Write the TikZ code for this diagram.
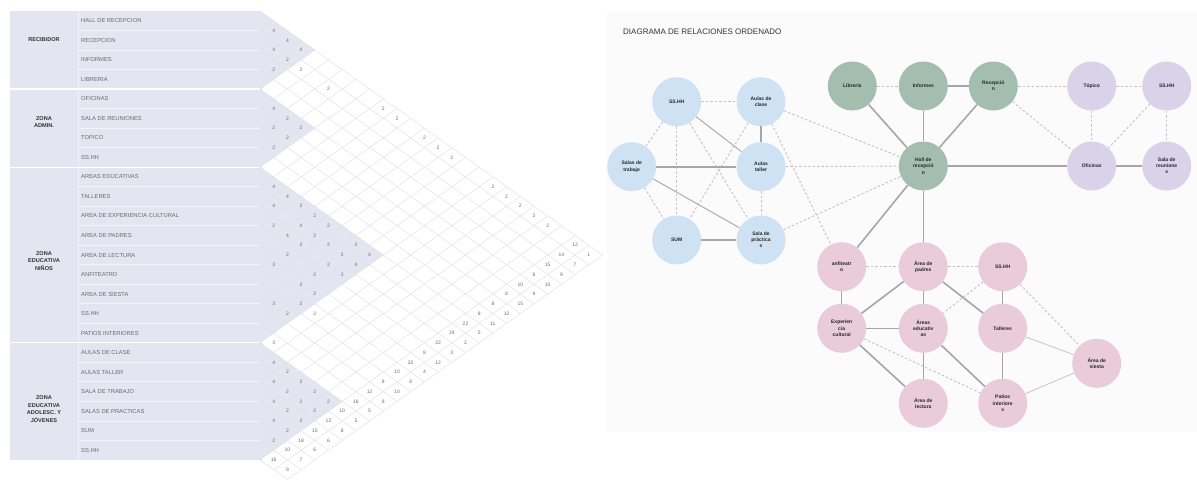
\documentclass[tikz,border=0pt]{standalone}
\usepackage{fontspec}
\setmainfont{Liberation Sans}
\definecolor{lav}{HTML}{E5E4F1}
\definecolor{lavline}{HTML}{F3F3F9}
\definecolor{gridc}{HTML}{E2E2E7}
\definecolor{numc}{HTML}{6E6E6E}
\definecolor{lblc}{HTML}{6A6A6A}
\definecolor{nblue}{HTML}{CFE2F3}
\definecolor{ngreen}{HTML}{A3BEAF}
\definecolor{npurple}{HTML}{D9D2E9}
\definecolor{npink}{HTML}{EACBD8}
\definecolor{edgec}{HTML}{A6A6A6}
\definecolor{dashc}{HTML}{C8C2C4}
\definecolor{panelc}{HTML}{FBFBFB}
\begin{document}
\begin{tikzpicture}[x=1pt,y=-1pt,
  gridl/.style={draw=gridc,line width=0.5pt},
  cnum/.style={inner sep=0pt,text=numc,font=\fontsize{5}{6}\selectfont},
  rowlbl/.style={anchor=west,inner sep=0pt,text=lblc,font=\fontsize{5.8}{7}\selectfont},
  grplbl/.style={align=center,inner sep=0pt,text=black!80,font=\bfseries\fontsize{5.6}{7.4}\selectfont},
  nd/.style={circle,minimum size=49pt,inner sep=0pt,align=center,text=black!85,font=\bfseries\fontsize{5}{6.2}\selectfont},
  bl/.style={nd,fill=nblue},
  gr/.style={nd,fill=ngreen},
  pu/.style={nd,fill=npurple},
  pk/.style={nd,fill=npink},
  sol/.style={draw=edgec,line width=1.6pt},
  solt/.style={draw=edgec,line width=0.9pt},
  das/.style={draw=dashc,line width=0.9pt,dash pattern=on 2.5pt off 2pt}]
\useasboundingbox (0,0) rectangle (1197,480);
% ---------- left table ----------
\fill[lav] (10,11) rectangle (261,459.96);
\foreach \k in {1,...,22} \draw[lavline,line width=0.8pt] (78,{11+\k*19.52}) -- (260,{11+\k*19.52});
\foreach \k in {4,8,17} \draw[white,line width=1.2pt] (10,{11+\k*19.52}) -- (260,{11+\k*19.52});
\draw[lavline,line width=1pt] (78,11) -- (78,459.96);
\draw[gridc!80!lav,line width=1.2pt] (261,11) -- (261,459.96);
% group triangles in the matrix
\foreach \ra/\rb in {1/4,5/8,9/17,18/23}
  \fill[lav] (260,{11+(\ra-1)*19.52}) -- ({260+(\rb-\ra+1)*13.7},{11+(\ra-1+\rb)*9.76}) -- (260,{11+\rb*19.52}) -- cycle;
% grid lines
\foreach \k in {0,...,23} \draw[gridl] (260,{11+\k*19.52}) -- ++({(25-\k)*13.7},{(25-\k)*9.76});
\foreach \k in {1,...,25} {
  \pgfmathsetmacro\xs{max(0,\k-23)*13.7}
  \draw[gridl] ({260+\xs},{11+\k*19.52-\xs*0.71241}) -- ({260+\k*13.7},{11+\k*9.76});
}
% row labels
\foreach \n/\t [count=\r] in {l1/HALL DE RECEPCION,l2/RECEPCION,l3/INFORMES,l4/LIBRERIA,l5/OFICINAS,l6/SALA DE REUNIONES,l7/TOPICO,l8/SS.HH,l9/AREAS EDUCATIVAS,l10/TALLERES,l11/AREA DE EXPERIENCIA CULTURAL,l12/AREA DE PADRES,l13/AREA DE LECTURA,l14/ANFITEATRO,l15/AREA DE SIESTA,l16/SS.HH,l17/PATIOS INTERIORES,l18/AULAS DE CLASE,l19/AULAS TALLER,l20/SALA DE TRABAJO,l21/SALAS DE PRACTICAS,l22/SUM,l23/SS.HH}
  \node[rowlbl] (\n) at (81,{11+(\r-0.5)*19.52}) {\t};
\node[grplbl] (g1) at (44,39.5) {RECIBIDOR};
\node[grplbl] (g2) at (44,122) {ZONA\\ADMIN.};
\node[grplbl] (g3) at (44,261) {ZONA\\EDUCATIVA\\NIÑOS};
\node[grplbl] (g4) at (44,409) {ZONA\\EDUCATIVA\\ADOLESC. Y\\JÓVENES};
% cell values
\foreach \i/\j/\v in {1/2/4,1/3/4,2/3/4,1/4/4,2/4/2,3/4/2,2/5/2,2/7/2,
  5/6/4,5/7/2,6/7/2,5/8/2,6/8/2,7/8/2,
  1/10/2,1/11/2,1/13/2,1/14/2,1/15/2,1/18/2,1/19/2,1/20/2,1/21/2,1/22/2,
  9/10/4,9/11/4,10/11/4,9/12/2,9/13/2,11/12/2,10/13/4,9/14/2,11/13/4,10/14/2,
  11/14/2,10/15/2,9/16/2,12/14/2,10/16/2,9/17/4,13/14/3,11/16/2,10/17/4,
  12/16/2,11/17/2,13/16/2,13/17/2,15/16/3,14/17/2,15/17/2,14/18/2,17/18/3,
  18/19/4,18/20/2,19/20/4,18/21/2,19/21/2,18/22/2,20/21/4,19/22/2,18/23/2,
  20/22/2,19/23/2,21/22/4,20/23/2,21/23/2,22/23/2}
  \node[cnum] (c\i-\j) at ({260+(\j-\i)*13.7},{11+(\i+\j-1)*9.76}) {\v};
% strip values
\foreach \i/\t/\r in {1/12/1,2/14/7,3/15/9,4/8/10,5/10/9,6/8/15,7/8/12,8/8/11,9/22/5,10/24/2,11/22/3,12/8/12,13/20/4,14/10/8,15/8/10,16/12/8,17/16/5,18/10/5,19/12/8,20/15/6,21/18/6,22/10/7,23/16/9}{
  \node[cnum] (t\i) at ({260+(24-\i)*13.7},{11+(\i+23)*9.76}) {\t};
  \node[cnum] (r\i) at ({260+(25-\i)*13.7},{11+(\i+24)*9.76}) {\r};
}
% ---------- right panel ----------
\fill[panelc] (607,12) rectangle (1197,432);
\node[anchor=west,inner sep=0pt,text=black!80,font=\fontsize{8}{9}\selectfont] (title) at (623,32) {DIAGRAMA DE RELACIONES ORDENADO};
% blue
\node[bl] (bss) at (676.7,101.7) {SS.HH};
\node[bl] (bac) at (761,101.7) {Aulas de\\clase};
\node[bl] (bst) at (631.7,166.7) {Salas de\\trabajo};
\node[bl] (bat) at (761,166.7) {Aulas\\taller};
\node[bl] (bsum) at (676.7,240) {SUM};
\node[bl] (bsp) at (761,240) {Sala de\\práctica\\s};
% green
\node[gr] (glib) at (852.3,86) {Librería};
\node[gr] (ginf) at (923.3,86) {Informes};
\node[gr] (grec) at (993.3,86) {Recepció\\n};
\node[gr] (ghall) at (923.3,166) {Hall de\\recepció\\n};
% purple
\node[pu] (ptop) at (1091.7,86) {Tópico};
\node[pu] (pss) at (1166.7,86) {SS.HH};
\node[pu] (pofi) at (1091.7,166) {Oficinas};
\node[pu] (preu) at (1166.7,166) {Sala de\\reunione\\s};
% pink
\node[pk] (kanf) at (841.7,266.7) {anfiteatr\\o};
\node[pk] (kpad) at (923.3,266.7) {Área de\\padres};
\node[pk] (kss) at (1002.7,266.7) {SS.HH};
\node[pk] (kexp) at (841.7,328.3) {Experien\\cia\\cultural};
\node[pk] (kedu) at (923.3,328.3) {Áreas\\educativ\\as};
\node[pk] (ktal) at (1002.7,328.3) {Talleres};
\node[pk] (ksie) at (1096.7,363.3) {Área de\\siesta};
\node[pk] (klec) at (923.3,403.3) {Área de\\lectura};
\node[pk] (kpat) at (1002.7,403.3) {Patios\\interiore\\s};
% edges blue
\draw[das] (bss) -- (bac);
\draw[das] (bss) -- (bst);
\draw[das] (bss) -- (bsum);
\draw[solt] (bss) -- (bat);
\draw[das] (bss) -- (bsp);
\draw[sol] (bac) -- (bat);
\draw[das] (bac) -- (bsum);
\draw[sol] (bst) -- (bat);
\draw[solt] (bst) -- (bsp);
\draw[das] (bst) -- (bsum);
\draw[das] (bat) -- (bsp);
\draw[sol] (bsum) -- (bsp);
\draw[das] (bac) -- (ghall);
\draw[das] (bac) -- (kanf);
\draw[das] (bat) -- (ghall);
\draw[das] (bsp) -- (ghall);
% edges green
\draw[das] (glib) -- (ginf);
\draw[sol] (ginf) -- (grec);
\draw[sol] (glib) -- (ghall);
\draw[sol] (ginf) -- (ghall);
\draw[sol] (grec) -- (ghall);
\draw[das] (grec) -- (ptop);
\draw[das] (grec) -- (pofi);
\draw[sol] (ghall) -- (pofi);
\draw[sol] (ghall) -- (kpad);
\draw[sol] (ghall) -- (kanf);
% edges purple
\draw[das] (ptop) -- (pss);
\draw[das] (ptop) -- (pofi);
\draw[das] (pss) -- (pofi);
\draw[das] (pss) -- (preu);
\draw[sol] (pofi) -- (preu);
% edges pink
\draw[das] (kanf) -- (kpad);
\draw[das] (kpad) -- (kss);
\draw[solt] (kanf) -- (kexp);
\draw[sol] (kpad) -- (kexp);
\draw[sol] (kpad) -- (kedu);
\draw[sol] (kpad) -- (ktal);
\draw[das] (kss) -- (kedu);
\draw[solt] (kss) -- (ktal);
\draw[das] (kss) -- (ksie);
\draw[sol] (kexp) -- (kedu);
\draw[sol] (kexp) -- (klec);
\draw[das] (kexp) -- (kpat);
\draw[sol] (kedu) -- (klec);
\draw[sol] (kedu) -- (kpat);
\draw[solt] (ktal) -- (kpat);
\draw[solt,draw=edgec!60] (ktal) -- (ksie);
\draw[solt,draw=edgec!60] (kpat) -- (ksie);
\end{tikzpicture}
\end{document}
